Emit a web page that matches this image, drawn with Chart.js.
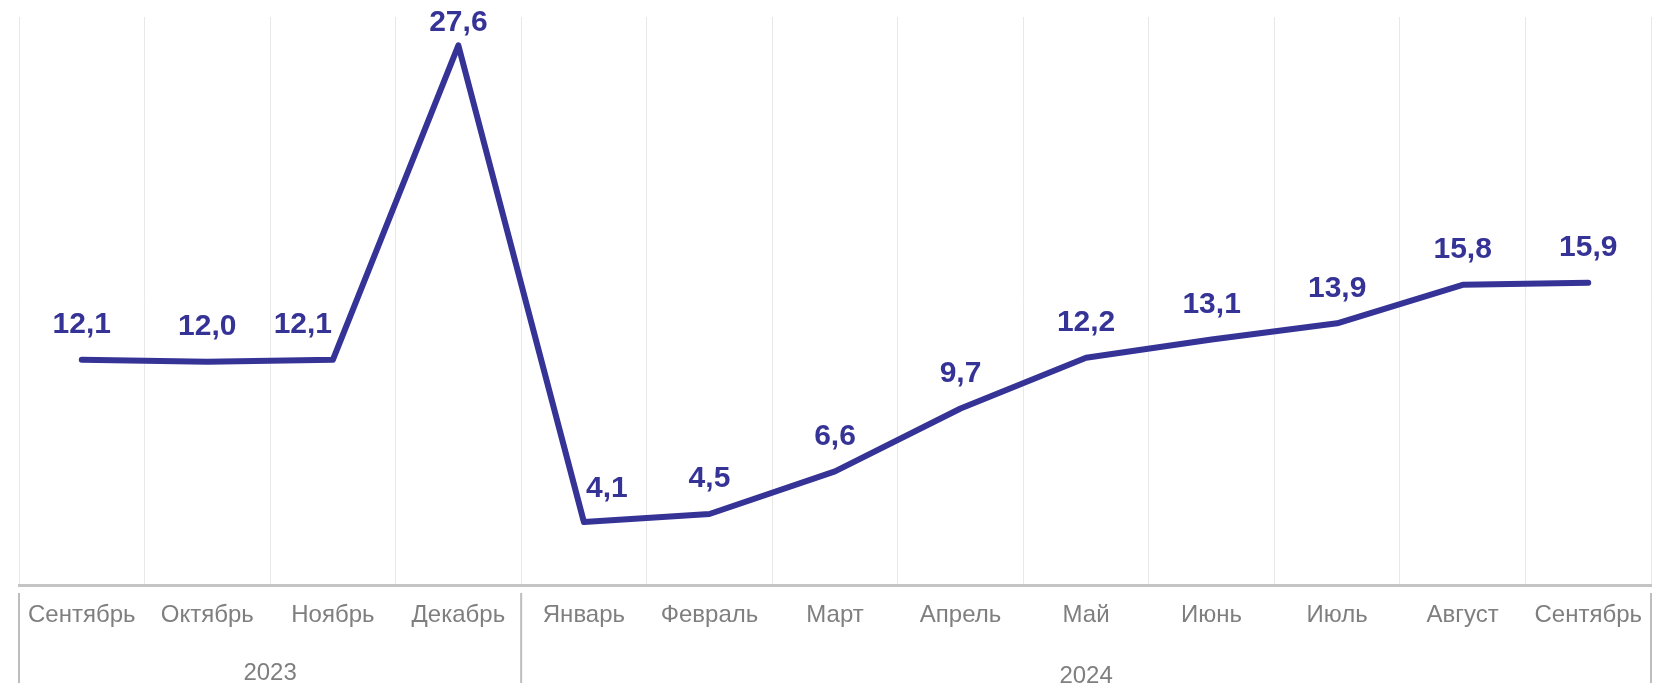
<!DOCTYPE html>
<html>
<head>
<meta charset="utf-8">
<script src="https://cdn.jsdelivr.net/npm/chart.js@4"></script>
<style>
  html, body { margin: 0; padding: 0; background: #ffffff; }
  #wrap { width: 1661px; height: 688px; }
</style>
</head>
<body>
<div id="wrap"><canvas id="c" width="1661" height="688"></canvas></div>
<script>
const categories = ['Сентябрь','Октябрь','Ноябрь','Декабрь','Январь','Февраль','Март','Апрель','Май','Июнь','Июль','Август','Сентябрь'];
const values = [12.1, 12.0, 12.1, 27.6, 4.1, 4.5, 6.6, 9.7, 12.2, 13.1, 13.9, 15.8, 15.9];
const years = ['2023', '2024'];
const yearSpans = [4, 9];

const LINE_COLOR = '#363397';
const TICK_COLOR = '#7f7f7f';
const FONT = '"Liberation Sans", Arial, sans-serif';
// label placement (style only): [dx, dy] relative to the point
const labelShift = { 2: [-30, -35], 3: [0, -23], 4: [23, -33] };
const defaultShift = [0, -35];

const dataLabels = {
  id: 'dataLabels',
  afterDatasetsDraw(chart) {
    const ctx = chart.ctx;
    const meta = chart.getDatasetMeta(0);
    ctx.save();
    ctx.font = 'bold 30px ' + FONT;
    ctx.fillStyle = LINE_COLOR;
    ctx.textAlign = 'center';
    ctx.textBaseline = 'middle';
    meta.data.forEach((pt, i) => {
      const s = labelShift[i] || defaultShift;
      const txt = values[i].toFixed(1).replace('.', ',');
      ctx.fillText(txt, pt.x + s[0], pt.y + s[1]);
    });
    ctx.restore();
  }
};

const yearGroups = {
  id: 'yearGroups',
  afterDraw(chart) {
    const ctx = chart.ctx;
    const xs = chart.scales.x;
    const area = chart.chartArea;
    const step = (xs.getPixelForValue(1) - xs.getPixelForValue(0));
    const bounds = [area.left];
    let idx = 0;
    yearSpans.forEach(n => { idx += n; bounds.push(xs.getPixelForValue(idx - 1) + step / 2); });
    ctx.save();
    ctx.strokeStyle = '#bdbdbd';
    ctx.lineWidth = 2;
    bounds.forEach(b => {
      ctx.beginPath();
      ctx.moveTo(b, area.bottom + 8);
      ctx.lineTo(b, area.bottom + 98);
      ctx.stroke();
    });
    ctx.font = '24px ' + FONT;
    ctx.fillStyle = TICK_COLOR;
    ctx.textAlign = 'center';
    ctx.textBaseline = 'middle';
    years.forEach((y, i) => {
      const cx = (bounds[i] + bounds[i + 1]) / 2;
      ctx.fillText(y, cx, area.bottom + 88 + (i === 1 ? 3 : 0));
    });
    ctx.restore();
  }
};

new Chart(document.getElementById('c'), {
  type: 'line',
  data: {
    labels: categories,
    datasets: [{
      data: values,
      borderColor: LINE_COLOR,
      borderWidth: 6,
      borderCapStyle: 'round',
      borderJoinStyle: 'round',
      pointRadius: 0,
      tension: 0,
      fill: false,
      clip: false
    }]
  },
  options: {
    responsive: false,
    animation: false,
    devicePixelRatio: 1,
    layout: { padding: { left: 19, right: 10, top: 17, bottom: 0 } },
    plugins: { legend: { display: false }, tooltip: { enabled: false } },
    scales: {
      x: {
        offset: true,
        grid: { offset: true, color: '#e8e8e8', lineWidth: 1, drawTicks: false },
        border: { color: '#c4c4c4', width: 3 },
        ticks: { color: TICK_COLOR, font: { family: FONT, size: 24 }, padding: 16, maxRotation: 0, autoSkip: false },
        afterFit(scale) { scale.height = 103; }
      },
      y: {
        display: false,
        min: 1,
        max: 29
      }
    }
  },
  plugins: [dataLabels, yearGroups]
});
</script>
</body>
</html>
